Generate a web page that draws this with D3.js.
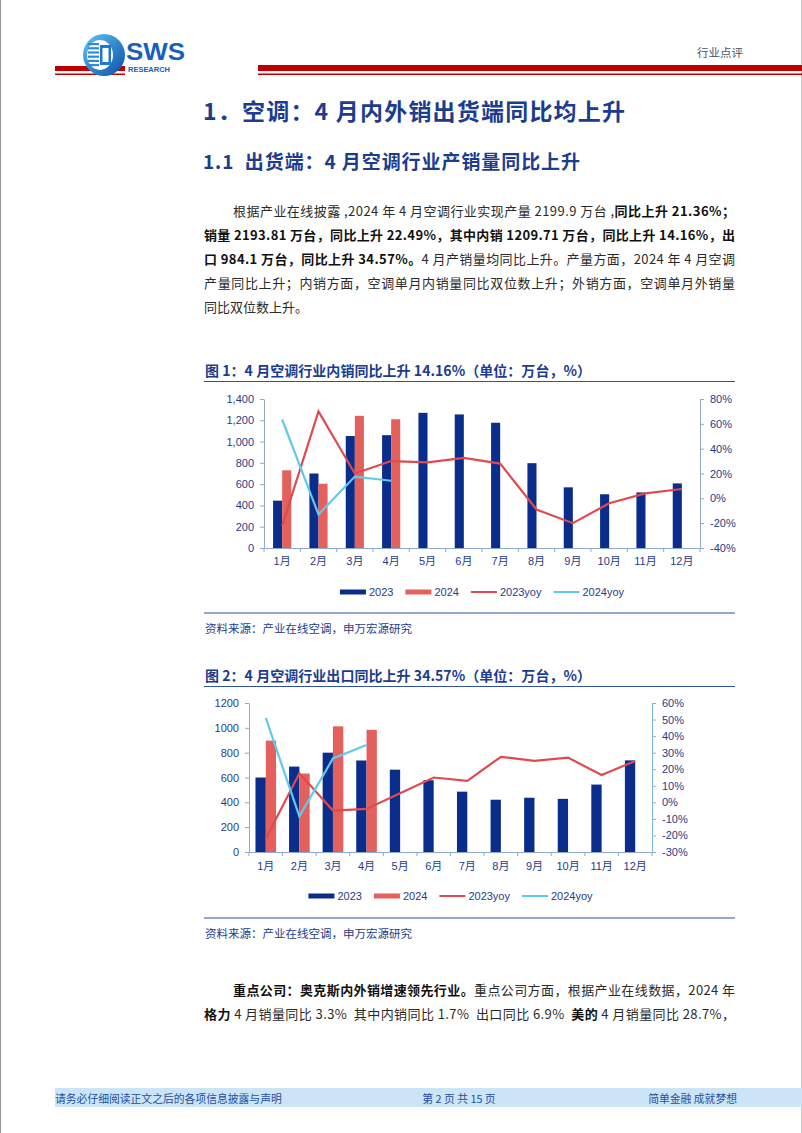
<!DOCTYPE html>
<html><head><meta charset="utf-8">
<script src="https://cdn.jsdelivr.net/npm/d3@7"></script>
<style>
body{margin:0;background:#fff;}
svg{display:block;}
text{white-space:pre;}
</style></head>
<body>
<svg id="page" width="802" height="1133"></svg>
<script>
// ---------- DATA ----------
const months = ["1月","2月","3月","4月","5月","6月","7月","8月","9月","10月","11月","12月"];
const seriesKeys = ["2023","2024"];
const legendLabels = ["2023","2024","2023yoy","2024yoy"];

// Chart 1: domestic sales (万台) and yoy (%)
const dom2023 = [445,700,1052,1060,1270,1255,1177,797,570,505,522,607];
const dom2024 = [730,604,1242,1210];
const domYoy2023 = [-22,70,20,30,29,32.5,28,-9,-20,-4,4,7.5];
const domYoy2024 = [63.5,-13,17.5,14.16];
const domLeftTicks = [0,200,400,600,800,1000,1200,1400];
const domRightTicks = [-40,-20,0,20,40,60,80];

// Chart 2: export (万台) and yoy (%)
const exp2023 = [600,688,800,737,663,578,486,421,437,428,543,738];
const exp2024 = [897,632,1012,984];
const expYoy2023 = [-22,17.5,-5,-4,5.5,15,13,27.5,25,27,16.5,25];
const expYoy2024 = [51,-8.5,26.5,34.57];
const expLeftTicks = [0,200,400,600,800,1000,1200];
const expRightTicks = [-30,-20,-10,0,10,20,30,40,50,60];

// ---------- STYLE ----------
const NAVY = "#0A2D8C", RED = "#E3605C", LRED = "#E04A4F", CYAN = "#62C9EE";
const TXTBLUE = "#1E3C8C", AXIS = "#8FA8CF";
const CJK = "'Noto Sans CJK SC','Noto Sans',sans-serif";
const LAT = "'Liberation Sans',Arial,'Noto Sans CJK SC',sans-serif";

const svg = d3.select("#page");

// page borders
svg.append("line").attr("x1",0.5).attr("x2",0.5).attr("y1",0).attr("y2",1133).attr("stroke","#9a9a9a");
svg.append("line").attr("x1",801.5).attr("x2",801.5).attr("y1",0).attr("y2",1133).attr("stroke","#c8c8c8");

// ---------- HEADER ----------
const hdr = svg.append("g");
hdr.append("rect").attr("x",55).attr("y",66).attr("width",70).attr("height",5).attr("fill","#C00000");
hdr.append("rect").attr("x",55).attr("y",73.5).attr("width",70).attr("height",1.5).attr("fill","#C00000");
hdr.append("rect").attr("x",258).attr("y",65).attr("width",544).attr("height",6).attr("fill","#C00000");
hdr.append("rect").attr("x",258).attr("y",73.5).attr("width",544).attr("height",1.5).attr("fill","#C00000");
const defs = svg.append("defs");
const lg = defs.append("linearGradient").attr("id","lg").attr("x1","0").attr("y1","0").attr("x2","1").attr("y2","1");
lg.append("stop").attr("offset","0").attr("stop-color","#5EC8F5");
lg.append("stop").attr("offset","1").attr("stop-color","#0B4DA8");
hdr.append("circle").attr("cx",104).attr("cy",55).attr("r",21).attr("fill","url(#lg)");
hdr.append("ellipse").attr("cx",100).attr("cy",55).attr("rx",13).attr("ry",15).attr("fill","#ffffff");
for (let i=0;i<6;i++){
  hdr.append("rect").attr("x",88).attr("y",43+i*4.2).attr("width",11).attr("height",2.2).attr("fill","#2C8BDA");
}
hdr.append("rect").attr("x",100).attr("y",45).attr("width",11).attr("height",20).attr("fill","#1E78D0");
hdr.append("rect").attr("x",102.5).attr("y",48).attr("width",6).attr("height",14).attr("fill","#ffffff");
hdr.append("text").attr("x",126).attr("y",60).attr("font-family",LAT).attr("font-weight","bold")
  .attr("font-size",23).attr("fill","#1661BE").attr("textLength",59).attr("lengthAdjust","spacingAndGlyphs").text("SWS");
hdr.append("text").attr("x",128).attr("y",72).attr("font-family",LAT).attr("font-weight","bold")
  .attr("font-size",7).attr("fill","#1661BE").attr("textLength",42).attr("lengthAdjust","spacingAndGlyphs").text("RESEARCH");
hdr.append("text").attr("x",697).attr("y",52).attr("dominant-baseline","central").attr("font-family",CJK)
  .attr("font-size",11.5).attr("fill","#44546A").text("行业点评");

// ---------- TEXT HELPERS ----------
function textLine(x, y, segs, size, width, color, weightAll) {
  const t = svg.append("text").attr("x",x).attr("y",y).attr("dominant-baseline","central")
    .attr("font-family",CJK).attr("font-size",size).attr("fill",color);
  if (weightAll) t.attr("font-weight",weightAll);
  segs.forEach(s => {
    const sp = t.append("tspan").text(s[0]);
    if (s[1]) sp.attr("font-weight","bold").attr("fill","#111");
  });
  if (width) t.attr("textLength",width).attr("lengthAdjust","spacing");
  return t;
}

// headings
textLine(203,110,[["1．空调：4 月内外销出货端同比均上升"]],23,422,"#1B3C8F","bold");
textLine(203,160,[["1.1  出货端：4 月空调行业产销量同比上升"]],19,377,"#1B3C8F","bold");

// body paragraph
const BODY = "#2a2a2a";
textLine(233,210,[["根据产业在线披露 ,2024 年 4 月空调行业实现产量 2199.9 万台 ,"],["同比上升 21.36%；",1]],13,502,BODY);
textLine(204,234,[["销量 2193.81 万台，同比上升 22.49%，其中内销 1209.71 万台，同比上升 14.16%，出",1]],13,531,BODY);
textLine(204,258,[["口 984.1 万台，同比上升 34.57%。",1],["4 月产销量均同比上升。产量方面，2024 年 4 月空调"]],13,531,BODY);
textLine(204,282,[["产量同比上升；内销方面，空调单月内销量同比双位数上升；外销方面，空调单月外销量"]],13,531,BODY);
textLine(204,306,[["同比双位数上升。"]],13,null,BODY);

// bottom paragraph
textLine(233,989,[["重点公司：奥克斯内外销增速领先行业。",1],["重点公司方面，根据产业在线数据，2024 年"]],13,502,BODY);
textLine(204,1013,[["格力",1],[" 4 月销量同比 3.3%  其中内销同比 1.7%  出口同比 6.9%  "],["美的",1],[" 4 月销量同比 28.7%，"]],13,531,BODY);

// footer
svg.append("rect").attr("x",55).attr("y",1088).attr("width",747).attr("height",19).attr("fill","#CBE5F7");
svg.append("text").attr("x",55).attr("y",1098).attr("dominant-baseline","central").attr("font-family",CJK)
  .attr("font-size",10.8).attr("fill","#1F4E9E").text("请务必仔细阅读正文之后的各项信息披露与声明");
svg.append("text").attr("x",459).attr("y",1098).attr("text-anchor","middle").attr("dominant-baseline","central").attr("font-family",CJK)
  .attr("font-size",10.8).attr("fill","#1F4E9E").text("第 2 页 共 15 页");
svg.append("text").attr("x",737).attr("y",1098).attr("text-anchor","end").attr("dominant-baseline","central").attr("font-family",CJK)
  .attr("font-size",10.8).attr("fill","#1F4E9E").text("简单金融 成就梦想");

// ---------- CHART ----------
function drawChart(cfg) {
  const g = svg.append("g");
  // title + rules
  g.append("text").attr("x",205).attr("y",cfg.titleY).attr("dominant-baseline","central")
    .attr("font-family",CJK).attr("font-weight","bold").attr("font-size",14).attr("fill","#1B3C8F")
    .attr("textLength",386).attr("lengthAdjust","spacing").text(cfg.title);
  g.append("line").attr("x1",204).attr("x2",735).attr("y1",cfg.titleY+11.5).attr("y2",cfg.titleY+11.5)
    .attr("stroke","#2F52A0").attr("stroke-width",1.2);
  g.append("line").attr("x1",204).attr("x2",735).attr("y1",cfg.ruleY).attr("y2",cfg.ruleY)
    .attr("stroke","#2F52A0").attr("stroke-width",1.2);
  g.append("text").attr("x",205).attr("y",cfg.ruleY+15).attr("dominant-baseline","central")
    .attr("font-family",CJK).attr("font-size",11.5).attr("fill",TXTBLUE).text("资料来源：产业在线空调，申万宏源研究");

  const x0 = d3.scaleBand().domain(months).range([cfg.xl, cfg.xr]).paddingInner(cfg.pad).paddingOuter(cfg.pad/2);
  const x1 = d3.scaleBand().domain(seriesKeys).range([0, x0.bandwidth()]);
  const xc = d => x0(d) + x0.bandwidth()/2;
  const yL = d3.scaleLinear().domain([0, cfg.leftMax]).range([cfg.yb, cfg.yt]);
  const yR = d3.scaleLinear().domain([cfg.rMin, cfg.rMax]).range([cfg.yb, cfg.yt]);

  // bars
  const bars = [];
  months.forEach((m,i) => {
    bars.push({m, k:"2023", v: cfg.s23[i]});
    if (cfg.s24[i] !== undefined) bars.push({m, k:"2024", v: cfg.s24[i]});
  });
  g.append("g").selectAll("rect").data(bars).join("rect")
    .attr("x", d => x0(d.m) + x1(d.k)).attr("width", x1.bandwidth())
    .attr("y", d => yL(d.v)).attr("height", d => yL(0) - yL(d.v))
    .attr("fill", d => d.k === "2023" ? NAVY : RED);

  // axes
  const la = g.append("g").attr("transform",`translate(${cfg.xl},0)`)
    .call(d3.axisLeft(yL).tickValues(cfg.lTicks).tickFormat(cfg.lFmt).tickSize(4).tickSizeOuter(0));
  const ra = g.append("g").attr("transform",`translate(${cfg.xr},0)`)
    .call(d3.axisRight(yR).tickValues(cfg.rTicks).tickFormat(d => d + "%").tickSize(4).tickSizeOuter(0));
  const ba = g.append("g").attr("transform",`translate(0,${cfg.yb})`)
    .call(d3.axisBottom(x0).tickSize(0).tickPadding(cfg.xPad));
  [la,ra,ba].forEach(a => {
    a.selectAll("path,line").attr("stroke", a === ra ? cfg.rAxisColor : AXIS);
    a.selectAll("text").attr("fill",TXTBLUE).attr("font-size",11).attr("font-family",LAT);
  });
  la.selectAll("text").attr("dx",-3);
  ra.selectAll("text").attr("dx",3);
  // boundary ticks on x-axis
  const bounds = d3.range(months.length + 1).map(i => cfg.xl + i * x0.step());
  g.append("g").selectAll("line").data(bounds).join("line")
    .attr("x1", d => d).attr("x2", d => d).attr("y1", cfg.yb).attr("y2", cfg.yb + 4).attr("stroke", AXIS);

  // lines
  const line = d3.line().x(d => xc(d.m)).y(d => yR(d.v));
  const l23 = cfg.y23.map((v,i) => ({m: months[i], v}));
  const l24 = cfg.y24.map((v,i) => ({m: months[i], v}));
  g.append("path").datum(l23).attr("d", line).attr("fill","none").attr("stroke",LRED).attr("stroke-width",2.2);
  g.append("path").datum(l24).attr("d", line).attr("fill","none").attr("stroke",CYAN).attr("stroke-width",2.2);

  // legend
  const leg = g.append("g");
  const sw = 26, gap1 = 3, gap2 = 12;
  const items = legendLabels.map((lab,i) => {
    const t = leg.append("text").attr("y",cfg.legY).attr("dominant-baseline","central")
      .attr("font-family",LAT).attr("font-size",11).attr("fill",TXTBLUE).text(lab);
    return {t, w: t.node().getComputedTextLength(), i};
  });
  const total = d3.sum(items, d => sw + gap1 + d.w) + gap2 * (items.length - 1);
  let cx = (cfg.xl + cfg.xr)/2 - total/2;
  const swColors = [NAVY, RED, LRED, CYAN];
  items.forEach(d => {
    if (d.i < 2) leg.append("rect").attr("x",cx).attr("y",cfg.legY-2.5).attr("width",sw).attr("height",5).attr("fill",swColors[d.i]);
    else leg.append("rect").attr("x",cx).attr("y",cfg.legY-1).attr("width",sw).attr("height",2).attr("fill",swColors[d.i]);
    d.t.attr("x", cx + sw + gap1);
    cx += sw + gap1 + d.w + gap2;
  });
}

drawChart({
  title: "图 1：4 月空调行业内销同比上升 14.16%（单位：万台，%）",
  titleY: 370, ruleY: 613, legY: 592,
  xl: 264, xr: 700, yt: 399, yb: 548, pad: 0.5, xPad: 9,
  leftMax: 1400, rMin: -40, rMax: 80,
  lTicks: domLeftTicks, rTicks: domRightTicks, lFmt: d3.format(","),
  s23: dom2023, s24: dom2024, y23: domYoy2023, y24: domYoy2024,
  rAxisColor: AXIS
});
drawChart({
  title: "图 2：4 月空调行业出口同比上升 34.57%（单位：万台，%）",
  titleY: 675, ruleY: 918, legY: 896,
  xl: 249, xr: 652, yt: 703, yb: 852, pad: 0.386, xPad: 10,
  leftMax: 1200, rMin: -30, rMax: 60,
  lTicks: expLeftTicks, rTicks: expRightTicks, lFmt: d3.format("d"),
  s23: exp2023, s24: exp2024, y23: expYoy2023, y24: expYoy2024,
  rAxisColor: "#7FB7DB"
});
</script>
</body></html>
